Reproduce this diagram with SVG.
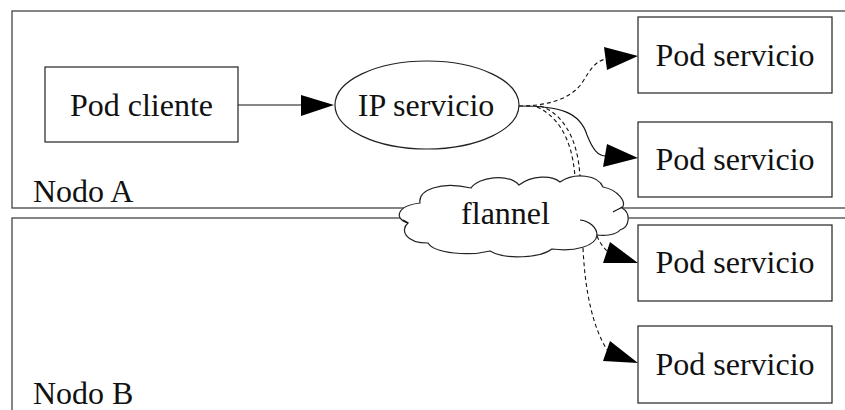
<svg xmlns="http://www.w3.org/2000/svg" width="845" height="410" viewBox="0 0 845 410">
  <style>
    .frame { fill: none; stroke: #444; stroke-width: 1.3; }
    .box { fill: #fff; stroke: #222; stroke-width: 1.2; }
    .lbl { font-family: "Liberation Serif", "Times New Roman", serif; font-size: 32px; fill: #111; text-anchor: middle; }
    .frame-lbl { font-family: "Liberation Serif", "Times New Roman", serif; font-size: 32px; fill: #111; }
    .edge { fill: none; stroke: #111; stroke-width: 1.1; }
    .dash { stroke-dasharray: 4 3; }
    .head { fill: #000; stroke: none; }
  </style>

  <rect width="845" height="410" fill="#fff"/>

  <!-- host frames -->
  <g id="nodo-a">
    <rect class="frame" x="12" y="11" width="850" height="197"/>
    <text class="frame-lbl" x="33" y="202">Nodo A</text>
  </g>
  <g id="nodo-b">
    <rect class="frame" x="12" y="218" width="850" height="210"/>
    <text class="frame-lbl" x="33" y="404">Nodo B</text>
  </g>

  <!-- connectors -->
  <g id="connectors">
    <line class="edge" x1="238" y1="105" x2="303" y2="105"/>
    <polygon class="head" points="334,105 301,95 301,116"/>

    <path class="edge dash" d="M519,106 C545,106 570,100 582,83 C590,70 595,61 606,59"/>
    <polygon class="head" points="638,56 604,47 607,70"/>

    <path class="edge" d="M519,106 C560,106 580,112 587,135 C593,150 598,156 606,156"/>
    <polygon class="head" points="638,158 607,144 603,167"/>

    <path class="edge dash" d="M537,107 C555,115 572,135 575,177"/>
    <path class="edge dash" d="M540,106 C560,112 578,135 580,177"/>

    <path class="edge dash" d="M597,236 C600,243 603,247 607,251"/>
    <polygon class="head" points="638,263 610,242 603,263"/>

    <path class="edge dash" d="M583,248 C585,290 592,325 607,350"/>
    <polygon class="head" points="638,363 610,341 603,361"/>
  </g>

  <!-- nodes -->
  <g id="pod-cliente">
    <rect class="box" x="45" y="67" width="193" height="75"/>
    <text class="lbl" x="141.5" y="116">Pod cliente</text>
  </g>

  <g id="ip-servicio">
    <ellipse class="box" cx="427" cy="105" rx="92" ry="44"/>
    <text class="lbl" x="426" y="116">IP servicio</text>
  </g>

  <g id="flannel">
    <path class="box" d="M420,203 C418,190 440,181 471,188 C478,177 508,173 519,185 C532,175 552,175 560,182 C575,172 598,175 603,187 C618,190 627,202 622,208 C631,213 630,227 620,230 C616,235 605,236 597,235 C596,246 575,252 552,249 C540,258 505,260 490,251 C470,256 435,254 428,243 C405,243 400,230 408,223 C394,219 396,206 420,203 Z"/>
    <path class="edge" d="M580,220 C590,221 597,228 597,235"/>
    <path class="edge" d="M613,212 C616,210 620,209 622,207"/>
    <path class="edge" d="M403,220 C405,221 407,222 408,223"/>
    <text class="lbl" x="505.5" y="224">flannel</text>
  </g>

  <g id="pod-servicio-1">
    <rect class="box" x="638" y="17" width="194" height="76"/>
    <text class="lbl" x="735" y="66">Pod servicio</text>
  </g>
  <g id="pod-servicio-2">
    <rect class="box" x="638" y="122" width="194" height="75"/>
    <text class="lbl" x="735" y="170">Pod servicio</text>
  </g>
  <g id="pod-servicio-3">
    <rect class="box" x="638" y="225" width="194" height="76"/>
    <text class="lbl" x="735" y="273">Pod servicio</text>
  </g>
  <g id="pod-servicio-4">
    <rect class="box" x="638" y="326" width="194" height="77"/>
    <text class="lbl" x="735" y="375">Pod servicio</text>
  </g>
</svg>
